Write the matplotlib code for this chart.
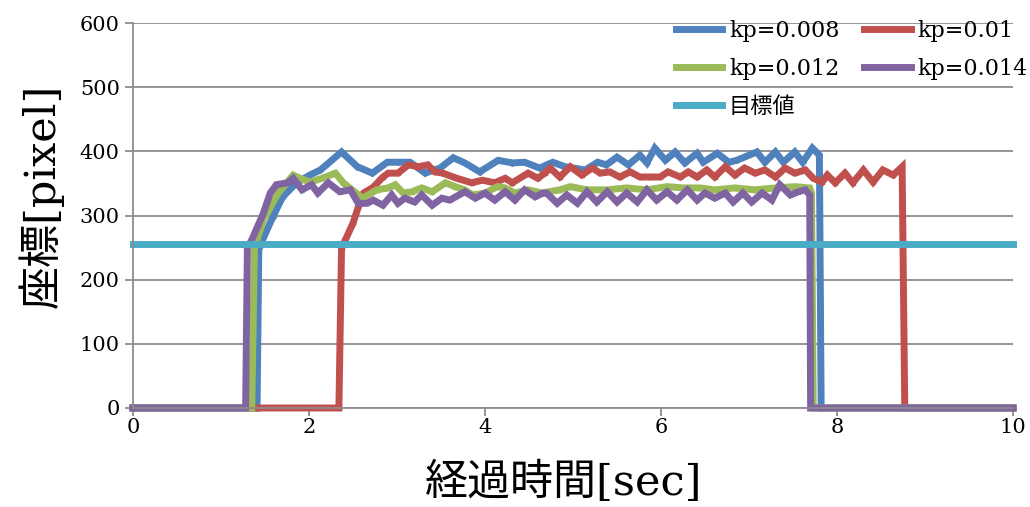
import matplotlib
matplotlib.use("Agg")
from matplotlib import pyplot as plt

plt.rcParams['font.family'] = ['DejaVu Serif', 'Noto Sans CJK JP']

# kp=0.008
t_008 = [0, 1.41, 1.43, 1.59, 1.70, 1.86, 2.01, 2.13, 2.37, 2.55, 2.72, 2.89,
         3.01, 3.15, 3.32, 3.49, 3.64, 3.77, 3.94, 4.15, 4.31, 4.45, 4.62,
         4.77, 4.91, 5.14, 5.28, 5.38, 5.50, 5.63, 5.76, 5.84, 5.93, 6.05,
         6.16, 6.27, 6.41, 6.48, 6.64, 6.77, 6.86, 7.09, 7.18, 7.30, 7.39,
         7.52, 7.61, 7.72, 7.80, 7.82, 10.0]
v_008 = [0, 0, 249, 298, 329, 351, 363, 371, 399, 376, 366, 383,
         383, 383, 366, 374, 390, 382, 368, 386, 382, 383, 374,
         383, 376, 371, 383, 379, 391, 379, 394, 382, 405, 386,
         399, 382, 397, 383, 397, 383, 386, 399, 383, 399, 383,
         399, 383, 405, 394, 0, 0]

# kp=0.01
t_010 = [0, 2.34, 2.37, 2.50, 2.56, 2.62, 2.73, 2.84, 2.90, 3.01, 3.13, 3.24,
         3.35, 3.43, 3.52, 3.68, 3.85, 3.97, 4.11, 4.23, 4.31, 4.49, 4.60,
         4.68, 4.74, 4.85, 4.97, 5.10, 5.22, 5.31, 5.42, 5.53, 5.65, 5.76,
         5.88, 5.99, 6.08, 6.22, 6.31, 6.41, 6.52, 6.61, 6.73, 6.84, 6.95,
         7.07, 7.18, 7.30, 7.41, 7.52, 7.64, 7.73, 7.83, 7.89, 7.98, 8.09,
         8.18, 8.30, 8.41, 8.52, 8.64, 8.74, 8.77, 10.0]
v_010 = [0, 0, 249, 288, 313, 335, 344, 360, 366, 366, 379, 376,
         379, 368, 366, 358, 351, 355, 351, 358, 351, 366, 358,
         366, 374, 360, 376, 363, 374, 366, 368, 360, 368, 360,
         360, 360, 368, 360, 368, 360, 371, 360, 376, 363, 374,
         366, 371, 360, 374, 366, 371, 358, 352, 363, 351, 366,
         351, 371, 352, 371, 363, 376, 0, 0]

# kp=0.012
t_012 = [0, 1.35, 1.38, 1.48, 1.65, 1.82, 1.90, 2.01, 2.15, 2.30, 2.39, 2.49,
         2.61, 2.77, 2.90, 2.98, 3.07, 3.17, 3.28, 3.40, 3.55, 3.66, 3.77,
         3.86, 4.00, 4.14, 4.23, 4.34, 4.49, 4.65, 4.85, 4.97, 5.16, 5.39,
         5.61, 5.84, 6.07, 6.25, 6.44, 6.61, 6.84, 7.07, 7.30, 7.52, 7.69,
         7.71, 7.73, 10.0]
v_012 = [0, 0, 249, 293, 335, 363, 358, 352, 358, 366, 351, 340,
         327, 340, 343, 348, 335, 337, 343, 337, 351, 345, 340,
         332, 335, 345, 343, 335, 340, 335, 340, 345, 340, 340,
         343, 340, 345, 343, 343, 340, 343, 340, 343, 345, 343,
         335, 0, 0]

# kp=0.014
t_014 = [0, 1.28, 1.30, 1.35, 1.48, 1.56, 1.63, 1.76, 1.82, 1.92, 2.03, 2.10,
         2.22, 2.35, 2.47, 2.56, 2.66, 2.73, 2.84, 2.94, 3.01, 3.09, 3.20,
         3.28, 3.40, 3.51, 3.60, 3.77, 3.89, 4.00, 4.11, 4.23, 4.34, 4.45,
         4.57, 4.66, 4.70, 4.82, 4.93, 5.05, 5.16, 5.27, 5.39, 5.50, 5.61,
         5.73, 5.84, 5.95, 6.07, 6.18, 6.30, 6.41, 6.50, 6.61, 6.73, 6.82,
         6.93, 7.03, 7.15, 7.26, 7.35, 7.47, 7.56, 7.64, 7.69, 7.70, 10.0]
v_014 = [0, 0, 250, 262, 303, 335, 348, 351, 358, 340, 348, 335,
         351, 337, 340, 319, 319, 324, 316, 332, 319, 327, 321,
         332, 316, 327, 324, 337, 327, 335, 324, 337, 324, 340,
         329, 335, 335, 319, 332, 319, 337, 321, 337, 321, 335,
         321, 340, 324, 337, 324, 340, 324, 335, 327, 335, 321,
         335, 321, 335, 324, 348, 332, 337, 340, 332, 0, 0]

# target value
t_target = [0, 10.0]
v_target = [256, 256]

labels = ["kp=0.008", "kp=0.01", "kp=0.012", "kp=0.014", "目標値"]
colors = ["#4F81BD", "#C0504D", "#9BBB59", "#8064A2", "#4BACC6"]
markers = ["D", "s", "^", "x", "*"]

fig = plt.figure(figsize=(10.30, 5.07), dpi=100)
ax = fig.add_axes([0.1291, 0.1953, 0.8544, 0.7593])

series = [(t_008, v_008), (t_010, v_010), (t_012, v_012), (t_014, v_014),
          (t_target, v_target)]
handles = []
for (t, v), label, color, marker in zip(series, labels, colors, markers):
    line, = ax.plot(t, v, color=color, lw=5, marker=marker, ms=3,
                    mew=1, label=label, clip_on=False,
                    solid_joinstyle="miter")
    handles.append(line)

ax.set_xlim(0, 10)
ax.set_ylim(0, 600)
ax.set_xticks(range(0, 11, 2))
ax.set_yticks(range(0, 601, 100))
ax.yaxis.grid(True, color="#8C8C8C", lw=1.3)
ax.set_axisbelow(True)
for side in ("top", "right"):
    ax.spines[side].set_visible(False)
for side in ("left", "bottom"):
    ax.spines[side].set_color("#8C8C8C")
    ax.spines[side].set_linewidth(1.3)
ax.tick_params(axis="both", colors="#8C8C8C", width=1.3, length=6,
               labelsize=15, labelcolor="black")
ax.tick_params(axis="x", pad=1)

ax.set_xlabel("経過時間[sec]", fontsize=31, labelpad=0)
ax.set_ylabel("座標[pixel]", fontsize=31, labelpad=0)
ax.xaxis.set_label_coords(0.49, -0.14)
ax.yaxis.set_label_coords(-0.078, 0.55)

# legend filled column-wise: reorder so rows read 0.008/0.01, 0.012/0.014, 目標値
order = [0, 2, 4, 1, 3]
fig.legend([handles[i] for i in order], [labels[i] for i in order],
           loc="upper right", bbox_to_anchor=(1.017, 1.0), ncol=2,
           frameon=False, fontsize=16, handlelength=2.1,
           columnspacing=1.1, handletextpad=0.3, labelspacing=0.72)

fig.savefig("out.png", dpi=100)
